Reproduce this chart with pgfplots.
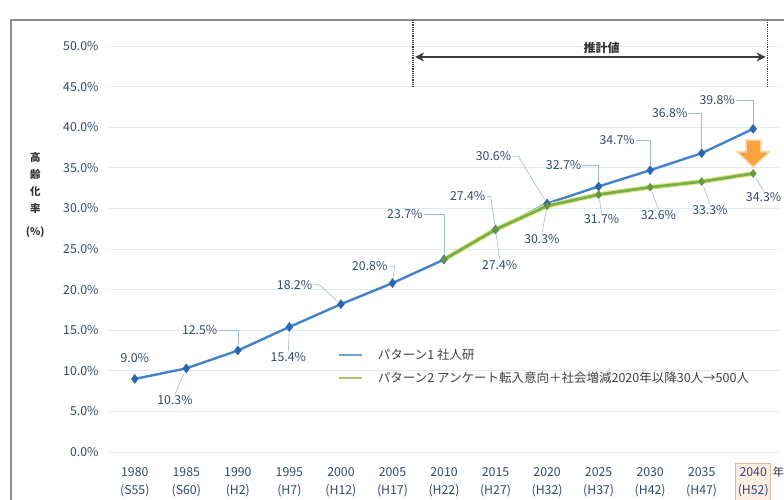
\documentclass[border=0pt]{standalone}
\usepackage{pgfplots}
\pgfplotsset{compat=1.18}
\usepackage{fontspec}
\setmainfont{Noto Sans CJK JP}
\usetikzlibrary{arrows.meta}

\definecolor{blueline}{HTML}{4482C8}
\definecolor{bluemark}{HTML}{2B66AE}
\definecolor{greenline}{HTML}{78B04A}
\definecolor{greenglow}{HTML}{E3E48C}
\definecolor{gridc}{HTML}{DDEAF6}
\definecolor{tickc}{HTML}{2F4B72}
\definecolor{leadc}{HTML}{9DBBDA}
\definecolor{brack}{HTML}{3C3C3C}
\definecolor{orangec}{HTML}{F7A23C}
\definecolor{orangeglow}{HTML}{FBD3A0}
\definecolor{boxc}{HTML}{F2B48E}
\definecolor{boxfill}{HTML}{FDEDE3}
\definecolor{frame}{HTML}{8C8C8C}
\definecolor{legblue}{HTML}{6FA3DA}
\definecolor{leggreen}{HTML}{9CC96E}

\begin{document}
\begin{tikzpicture}[
  lbl/.style={font=\fontsize{12.3}{13}\selectfont, text=tickc, inner sep=1pt},
  leader/.style={leadc, line width=0.6pt, shorten >=5pt}]
\useasboundingbox (0pt,0pt) rectangle (784pt,500pt);
\fill[white] (0pt,0pt) rectangle (784pt,500pt);
\draw[frame, line width=1.2pt] (11pt,480pt) rectangle (800pt,-20pt);

\begin{axis}[
  at={(109pt,48pt)}, anchor=south west,
  scale only axis, width=670pt, height=406pt,
  xmin=1977.5, xmax=2042.5, ymin=0, ymax=50,
  clip=false,
  axis line style={draw=none},
  major tick length=0pt,
  ytick={0,5,...,50},
  ymajorgrids, grid style={gridc, line width=0.9pt},
  /pgf/number format/assume math mode=true,
  yticklabel={\pgfmathprintnumber[fixed,fixed zerofill,precision=1]{\tick}\%},
  yticklabel style={xshift=-7pt},
  ticklabel style={font=\fontsize{12.3}{18}\selectfont, text=tickc},
  xtick={1980,1985,...,2035},
  xticklabels={{1980\\(S55)},{1985\\(S60)},{1990\\(H2)},{1995\\(H7)},{2000\\(H12)},{2005\\(H17)},{2010\\(H22)},{2015\\(H27)},{2020\\(H32)},{2025\\(H37)},{2030\\(H42)},{2035\\(H47)}},
  xticklabel style={align=center, yshift=-11pt, inner xsep=2pt, inner ysep=4pt},
  extra x ticks={2040},
  extra x tick labels={{2040\\(H52)}},
  extra x tick style={xticklabel style={draw=boxc, fill=boxfill, line width=1pt}},
  ylabel={高\\齢\\化\\率\\[6pt](\%)},
  ylabel style={rotate=-90, at={(axis description cs:-0.11,0.633)}, anchor=center, align=center, font=\bfseries\fontsize{10.5}{17}\selectfont, text=black!80},
  legend style={at={(axis description cs:0.337,0.263)}, anchor=north west, draw=none, fill=none, font=\fontsize{12.5}{14}\selectfont, text=black!75, row sep=7pt, column sep=13pt},
  legend cell align=left,
  legend image code/.code={\draw[line width=2pt,#1] (0pt,0pt)--(23pt,0pt);},
]

\addplot[blueline, line width=2.4pt, mark=diamond*, mark size=4.5pt, mark options={fill=bluemark, draw=bluemark, line width=0.5pt}, forget plot]
coordinates {(1980,9.0)(1985,10.3)(1990,12.5)(1995,15.4)(2000,18.2)(2005,20.8)(2010,23.7)(2015,27.4)(2020,30.6)(2025,32.7)(2030,34.7)(2035,36.8)(2040,39.8)};

\addplot[greenglow, line width=5pt, forget plot]
coordinates {(2010,23.7)(2015,27.4)(2020,30.3)(2025,31.7)(2030,32.6)(2035,33.3)(2040,34.3)};
\addplot[greenline, line width=2.8pt, mark=diamond*, mark size=4pt, mark options={fill=greenline!85!black, draw=greenline!85!black, line width=0.5pt}, forget plot]
coordinates {(2010,23.7)(2015,27.4)(2020,30.3)(2025,31.7)(2030,32.6)(2035,33.3)(2040,34.3)};

\addlegendimage{draw=legblue}
\addlegendentry{パターン1 社人研}
\addlegendimage{draw=leggreen}
\addlegendentry{パターン2 アンケート転入意向＋社会増減2020年以降30人→500人}

% data labels, blue series
\node[lbl] at (axis cs:1980,11.6) {9.0\%};
\node[lbl] (a) at (axis cs:1983.9,6.4) {10.3\%}; \draw[leader] (a.north) -- (axis cs:1985,10.3);
\node[lbl] (a) at (axis cs:1986.3,15.0) {12.5\%}; \draw[leader] (a.east) -| (axis cs:1990,12.5);
\node[lbl] (a) at (axis cs:1994.9,11.7) {15.4\%}; \draw[leader] (a.north) -- (axis cs:1995,15.4);
\node[lbl] (a) at (axis cs:1995.5,20.6) {18.2\%}; \draw[leader] (a.east) -- ++(6pt,0pt) -- (axis cs:2000,18.2);
\node[lbl] (a) at (axis cs:2002.8,22.9) {20.8\%}; \draw[leader] (a.east) -- ++(6pt,0pt) -- (axis cs:2005,20.8);
\node[lbl] (a) at (axis cs:2006.2,29.3) {23.7\%}; \draw[leader] (a.east) -| (axis cs:2010,23.7);
\node[lbl] (a) at (axis cs:2012.3,31.5) {27.4\%}; \draw[leader] (a.east) -- ++(4pt,0pt) -- (axis cs:2015,27.4);
\node[lbl] (a) at (axis cs:2014.8,36.4) {30.6\%}; \draw[leader] (a.east) -- ++(6pt,0pt) -- (axis cs:2020,30.6);
\node[lbl] (a) at (axis cs:2021.6,35.3) {32.7\%}; \draw[leader] (a.east) -| (axis cs:2025,32.7);
\node[lbl] (a) at (axis cs:2026.8,38.4) {34.7\%}; \draw[leader] (a.east) -| (axis cs:2030,34.7);
\node[lbl] (a) at (axis cs:2031.9,41.7) {36.8\%}; \draw[leader] (a.east) -| (axis cs:2035,36.8);
\node[lbl] (a) at (axis cs:2036.5,43.3) {39.8\%}; \draw[leader] (a.east) -| (axis cs:2040,39.8);
% data labels, green series
\node[lbl] (a) at (axis cs:2015.4,23.0) {27.4\%}; \draw[leader] (a.north) -- (axis cs:2015,27.4);
\node[lbl] (a) at (axis cs:2019.5,26.2) {30.3\%}; \draw[leader] (a.north) -- (axis cs:2020,30.3);
\node[lbl] (a) at (axis cs:2025.3,28.7) {31.7\%}; \draw[leader] (a.north) -- (axis cs:2025,31.7);
\node[lbl] (a) at (axis cs:2030.8,29.2) {32.6\%}; \draw[leader] (a.north) -- (axis cs:2030,32.6);
\node[lbl] (a) at (axis cs:2035.8,29.8) {33.3\%}; \draw[leader] (a.north) -- (axis cs:2035,33.3);
\node[lbl] (a) at (axis cs:2041.0,31.4) {34.3\%}; \draw[leader] (a.north) -- (axis cs:2040,34.3);

% projection bracket
\draw[brack, line width=1.2pt, densely dotted] (axis cs:2007.0,53.2) -- (axis cs:2007.0,44.9);
\draw[brack, line width=1.2pt, densely dotted] (axis cs:2041.4,53.2) -- (axis cs:2041.4,44.9);
\draw[brack, line width=2.4pt, {Stealth[length=9pt,width=9pt]}-{Stealth[length=9pt,width=9pt]}] (axis cs:2007.2,48.65) -- (axis cs:2041.2,48.65);
\node[font=\bfseries\fontsize{12}{13}\selectfont, text=black!80, anchor=south, inner sep=1pt] at (axis cs:2025.3,48.9) {推計値};

% orange arrow between the scenarios
\fill[orangec, draw=orangeglow, line width=1.5pt]
  (axis cs:2039.3,38.4) -- (axis cs:2040.75,38.4) -- (axis cs:2040.75,36.95) -- (axis cs:2041.55,36.95)
  -- (axis cs:2040,35.1) -- (axis cs:2038.45,36.95) -- (axis cs:2039.3,36.95) -- cycle;

\node[anchor=west, font=\fontsize{11.5}{12}\selectfont, text=black!80, inner sep=0pt] at (axis cs:2041.85,-2.5) {年};
\end{axis}
\end{tikzpicture}
\end{document}
